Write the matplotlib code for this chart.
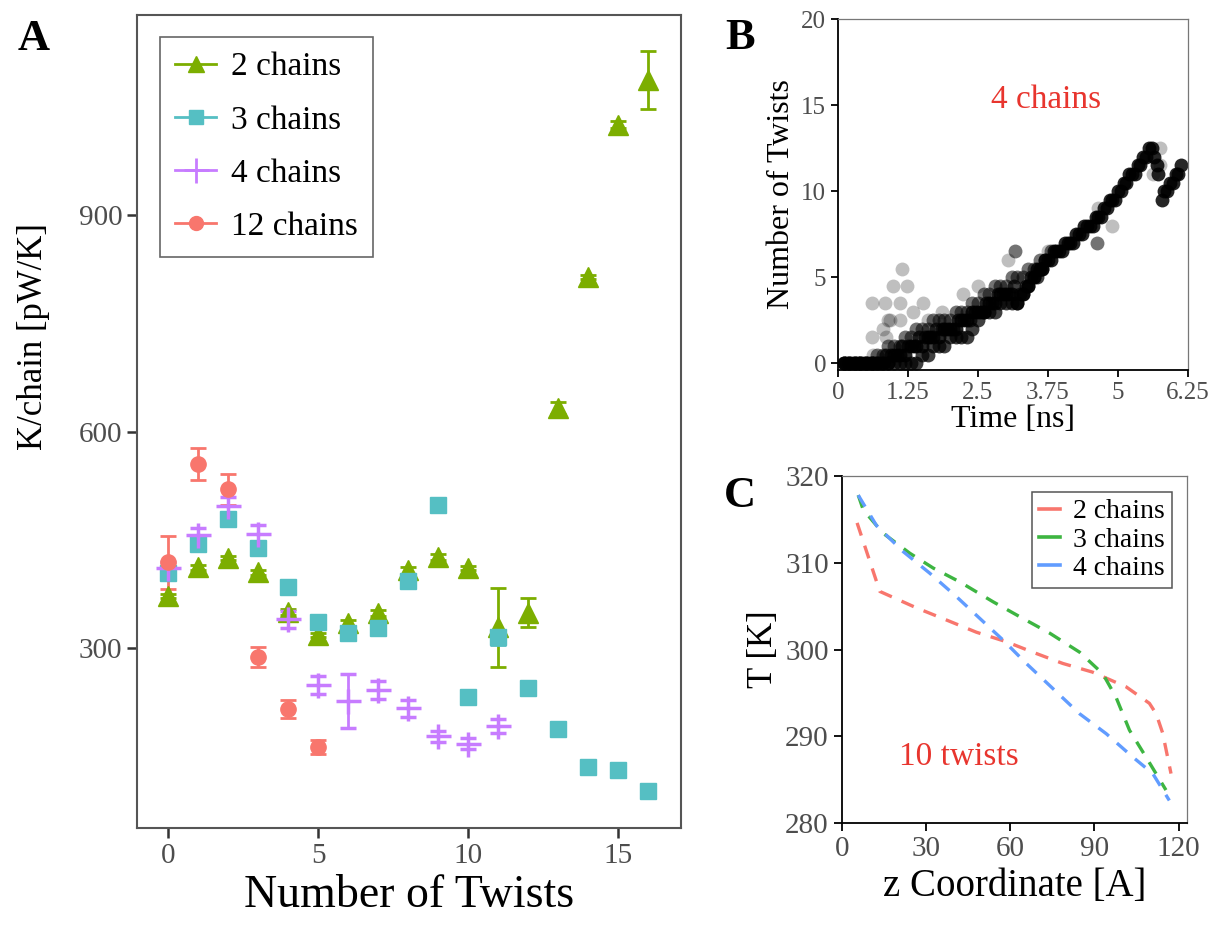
import numpy as np
import matplotlib.pyplot as plt
from matplotlib.lines import Line2D

plt.rcParams['font.family'] = ['Liberation Serif', 'DejaVu Serif']

# ---------------- Panel A data ----------------
twists_2 = [0, 1, 2, 3, 4, 5, 6, 7, 8, 9, 10, 11, 12, 13, 14, 15, 16]
k_2 = [372, 412, 425, 405, 350, 318, 335, 349, 408, 426, 411, 329, 349, 633, 814, 1025, 1087]
err_2 = [3, 3, 3, 3, 4, 3, 4, 4, 5, 4, 3, 55, 20, 8, 3, 5, 40]

twists_3 = [0, 1, 2, 3, 4, 5, 6, 7, 8, 9, 10, 11, 12, 13, 14, 15, 16]
k_3 = [404, 444, 479, 439, 385, 336, 321, 328, 393, 498, 232, 315, 245, 188, 135, 131, 102]
err_3 = [4, 4, 4, 4, 4, 4, 4, 4, 5, 3, 3, 10, 3, 3, 3, 3, 3]

twists_4 = [0, 1, 2, 3, 4, 5, 6, 7, 8, 9, 10, 11]
k_4 = [411, 457, 497, 458, 340, 249, 227, 242, 217, 178, 168, 192]
err_4 = [8, 10, 12, 12, 12, 12, 37, 12, 12, 8, 8, 10]

twists_12 = [0, 1, 2, 3, 4, 5]
k_12 = [419, 555, 520, 288, 216, 163]
err_12 = [37, 22, 22, 14, 12, 10]

# ---------------- Panel B data ----------------
run1_t = [0.1, 0.2, 0.3, 0.4, 0.5, 0.6, 0.7, 0.8, 0.9, 1.0, 1.1, 1.2, 1.3, 1.4, 1.5,
          1.6, 1.7, 1.8, 1.9, 2.0, 2.1, 2.2, 2.3, 2.4, 2.5, 2.6, 2.7, 2.8, 2.9, 3.0,
          3.1, 3.2, 3.3, 3.4, 3.5, 3.55, 3.6, 3.65, 3.7, 3.75, 3.8, 3.85, 3.9, 3.95,
          4.0, 4.05, 4.1, 4.15, 4.2, 4.25, 4.3, 4.35, 4.4, 4.45, 4.5, 4.55, 4.6, 4.65,
          4.7, 4.75, 4.8, 4.85, 4.9, 4.95, 5.0, 5.05, 5.1, 5.15, 5.2, 5.25, 5.3, 5.35,
          5.4, 5.45, 5.5, 5.55, 5.6, 5.65, 5.7, 5.72, 5.78, 5.83, 5.88, 5.93, 5.98,
          6.03, 6.08, 6.13]
run1_n = [0, 0, 0, 0, 0, 0, 0, 0, 0, 0.5, 0.5, 0.5, 1, 1, 1,
          1.5, 1.5, 1.5, 2, 2, 2, 2.5, 2.5, 3, 3, 3, 3.5, 3.5, 4, 4,
          4, 3.5, 4, 4.5, 5, 5.5, 5.5, 5.5, 6, 6, 6, 6.5, 6.5, 6.5,
          6.5, 7, 7, 7, 7, 7.5, 7.5, 7.5, 8, 8, 8, 8, 8.5, 8.5,
          8.5, 9, 9, 9.5, 9.5, 9.5, 10, 10, 10.5, 10.5, 11, 11, 11, 11.5,
          11.5, 12, 12, 12.5, 12.5, 12, 11.5, 11, 9.5, 10, 10, 10.5, 10.5,
          11, 11, 11.5]

run2_t = [0.1, 0.2, 0.3, 0.4, 0.5, 0.6, 0.7, 0.8, 0.9, 1.0, 1.1, 1.2, 1.3, 1.4, 1.5,
          1.6, 1.7, 1.8, 1.9, 2.0, 2.1, 2.2, 2.3, 2.4, 2.5, 2.6, 2.7, 2.8, 2.9, 3.0,
          3.1, 3.2, 3.3, 3.4, 3.5, 3.6]
run2_n = [0, 0, 0, 0, 0, 0, 0, 0, 0, 0, 0, 0, 0, 0, 0.5,
          0.5, 1, 1, 1, 1.5, 1.5, 1.5, 1.5, 2, 2.5, 3, 3, 3, 3.5, 3.5,
          3.5, 3.5, 4, 4.5, 5, 5.5]

run3_t = [0.1, 0.2, 0.3, 0.4, 0.5, 0.6, 0.7, 0.8, 0.9, 1.0, 1.1, 1.2, 1.3, 1.4, 1.5,
          1.6, 1.7, 1.8, 1.9, 2.0, 2.1, 2.2, 2.3, 2.4, 2.5, 2.6, 2.7, 2.8, 2.9, 3.0,
          3.1, 3.16, 3.2, 3.3, 3.4, 3.5, 3.6, 3.7, 3.8, 4.62]
run3_n = [0, 0, 0, 0, 0, 0, 0.5, 0.5, 1, 1, 1, 1.5, 1.5, 2, 2,
          2, 2.5, 2.5, 2.5, 2.5, 3, 3, 3, 3.5, 3.5, 4, 4, 4.5, 4.5, 4.5,
          5, 6.5, 5, 5, 5.5, 5.5, 6, 6, 6.5, 7]

run4_t = [0.15, 0.25, 0.35, 0.45, 0.55, 0.65, 0.75, 0.85, 0.95, 1.05, 1.15, 1.25,
          1.35, 1.45, 1.55, 1.65, 1.75, 1.85, 1.95, 2.05, 2.15, 2.25, 2.35, 2.45,
          2.55, 2.65, 2.75, 2.85, 2.95, 3.05, 3.15, 3.25, 3.35, 3.45, 3.55, 3.65]
run4_n = [0, 0, 0, 0, 0, 0, 0, 0.5, 0.5, 0.5, 1, 1,
          1, 1.5, 1.5, 1.5, 2, 2, 2, 2, 2.5, 2.5, 2.5, 3,
          3, 3.5, 3.5, 4, 4, 4, 4.5, 4, 4.5, 5, 5, 5.5]

light_t = [0.6, 0.6, 0.62, 0.81, 0.84, 0.85, 0.89, 0.93, 0.98, 1.11, 1.11, 1.14, 1.23,
           1.34, 1.52, 1.6, 1.85, 2.23, 2.5, 3.04, 3.75, 4.64, 4.89, 5.63, 5.75, 5.75]
light_n = [3.5, 1.5, 0.5, 2, 3.5, 1.5, 2.5, 2.5, 4.5, 3.5, 2.5, 5.5, 4.5,
           3, 3.5, 2.5, 3, 4, 4.5, 6, 6.5, 9, 8, 11, 11.5, 12.5]

# ---------------- Panel C data ----------------
z_2 = [5.4, 13.5, 26.6, 37.3, 47.9, 58.6, 68.0, 78.7, 89.3, 101.3, 109.6, 112.0, 114.3, 117.3]
T_2 = [314.6, 306.7, 304.8, 303.4, 302.0, 300.9, 299.7, 298.4, 297.4, 295.7, 293.8, 292.6, 290.4, 285.7]
z_3 = [5.8, 7.6, 14.7, 24.2, 32.5, 42.0, 53.9, 63.3, 74.0, 84.7, 93.0, 97.7, 102.5, 108.4, 115.5]
T_3 = [317.8, 316.1, 313.4, 311.1, 309.4, 307.8, 305.5, 303.8, 301.9, 299.7, 297.2, 294.5, 290.7, 287.6, 283.8]
z_4 = [5.8, 12.3, 21.8, 31.3, 40.8, 49.1, 57.4, 65.7, 75.2, 84.7, 94.2, 103.7, 110.8, 116.7]
T_4 = [317.8, 314.3, 311.3, 308.8, 306.1, 303.6, 301.1, 298.4, 295.5, 292.6, 290.3, 287.6, 285.7, 282.6]

green = '#7CAE00'
teal = '#55BFC3'
purple = '#C77CFF'
red = '#F8766D'
tick_grey = '#4D4D4D'
c_green = '#3DB541'
c_blue = '#619CFF'

fig = plt.figure(figsize=(12.09, 9.26), dpi=100)

# ---------------- Panel A ----------------
axA = fig.add_axes([0.1133, 0.1058, 0.450, 0.878])
axA.errorbar(twists_2, k_2, yerr=err_2, fmt='^', color=green, ms=14, capsize=6, elinewidth=2, capthick=2)
axA.errorbar(twists_3, k_3, yerr=err_3, fmt='s', color=teal, ms=11, capsize=6, elinewidth=2, capthick=2)
axA.errorbar(twists_4, k_4, yerr=err_4, fmt='+', color=purple, ms=18, mew=2.5, capsize=6,
             elinewidth=2, capthick=2)
axA.errorbar(twists_12, k_12, yerr=err_12, fmt='o', color=red, ms=11, capsize=6, elinewidth=2, capthick=2)
axA.set_xlim(-1.05, 17.1)
axA.set_ylim(51, 1177)
axA.set_xticks([0, 5, 10, 15])
axA.set_yticks([300, 600, 900])
axA.tick_params(labelsize=21, labelcolor=tick_grey, length=7, width=1.8, color='#333333')
for s in axA.spines.values():
    s.set_color('#555555')
    s.set_linewidth(1.5)
axA.set_xlabel('Number of Twists', fontsize=33, labelpad=4)
axA.set_ylabel('K/chain [pW/K]', fontsize=25)
axA.yaxis.set_label_coords(-0.16, 0.605)

handles = [
    Line2D([], [], color=green, marker='^', ms=12, lw=2),
    Line2D([], [], color=teal, marker='s', ms=10, lw=2),
    Line2D([], [], color=purple, marker='+', ms=18, mew=2, lw=2),
    Line2D([], [], color=red, marker='o', ms=10, lw=2),
]
legA = axA.legend(handles, ['2 chains', '3 chains', '4 chains', '12 chains'], loc='upper left',
                  fontsize=24, fancybox=False, framealpha=1, edgecolor='#666666',
                  handlelength=1.25, handletextpad=0.45, labelspacing=0.68, borderpad=0.45,
                  borderaxespad=0, bbox_to_anchor=(0.042, 0.973))
legA.get_frame().set_linewidth(1.2)

# ---------------- Panel B ----------------
axB = fig.add_axes([0.6931, 0.6004, 0.2895, 0.379])
axB.scatter(light_t, light_n, s=100, color='black', alpha=0.25, linewidths=0)
axB.scatter(run2_t, run2_n, s=100, color='black', alpha=0.75, linewidths=0)
axB.scatter(run4_t, run4_n, s=100, color='black', alpha=0.75, linewidths=0)
axB.scatter(run3_t, run3_n, s=100, color='black', alpha=0.55, linewidths=0)
axB.scatter(run1_t, run1_n, s=100, color='black', alpha=0.85, linewidths=0)
axB.set_xlim(0, 6.25)
axB.set_ylim(-0.4, 20)
axB.set_xticks([0, 1.25, 2.5, 3.75, 5, 6.25])
axB.set_xticklabels(['0', '1.25', '2.5', '3.75', '5', '6.25'])
axB.set_yticks([0, 5, 10, 15, 20])
axB.tick_params(labelsize=18, labelcolor=tick_grey, length=5, width=1.3)
for side in ['left', 'bottom']:
    axB.spines[side].set_linewidth(1.3)
for side in ['top', 'right']:
    axB.spines[side].set_color('#777777')
    axB.spines[side].set_linewidth(0.9)
axB.set_xlabel('Time [ns]', fontsize=23, labelpad=1)
axB.set_ylabel('Number of Twists', fontsize=23, labelpad=4)
axB.text(3.71, 15.3, '4 chains', color='#E8352E', fontsize=24, ha='center', va='center')

# ---------------- Panel C ----------------
axC = fig.add_axes([0.6964, 0.1112, 0.2854, 0.3747])
dash = (4, 3.2)
axC.plot(z_2, T_2, color=red, lw=2.4, dashes=dash)
axC.plot(z_3, T_3, color=c_green, lw=2.4, dashes=dash)
axC.plot(z_4, T_4, color=c_blue, lw=2.4, dashes=dash)
axC.set_xlim(0, 123)
axC.set_ylim(280, 320)
axC.set_xticks([0, 30, 60, 90, 120])
axC.set_yticks([280, 290, 300, 310, 320])
axC.tick_params(labelsize=21, labelcolor=tick_grey, length=6, width=1.3)
for side in ['left', 'bottom']:
    axC.spines[side].set_linewidth(1.3)
for side in ['top', 'right']:
    axC.spines[side].set_color('#777777')
    axC.spines[side].set_linewidth(0.9)
axC.set_xlabel('z Coordinate [A]', fontsize=28, labelpad=4)
axC.set_ylabel('T [K]', fontsize=25)
axC.yaxis.set_label_coords(-0.18, 0.5)
axC.text(41.6, 287.6, '10 twists', color='#E8352E', fontsize=24, ha='center', va='center')
c_handles = [Line2D([], [], color=red, lw=2.6),
             Line2D([], [], color=c_green, lw=2.6),
             Line2D([], [], color=c_blue, lw=2.6)]
legC = axC.legend(c_handles, ['2 chains', '3 chains', '4 chains'], loc='upper right', fontsize=20,
                  fancybox=False, framealpha=1, edgecolor='#555555',
                  handlelength=0.75, handletextpad=0.5, labelspacing=0.1, borderpad=0.25,
                  borderaxespad=0, bbox_to_anchor=(0.957, 0.954))
legC.get_frame().set_linewidth(1.1)

# panel letters
fig.text(18 / 1209, 1 - 19 / 926, 'A', fontsize=32, fontweight='bold', va='top')
fig.text(725 / 1209, 1 - 18 / 926, 'B', fontsize=32, fontweight='bold', va='top')
fig.text(724 / 1209, 1 - 476 / 926, 'C', fontsize=32, fontweight='bold', va='top')

fig.savefig('out.png', dpi=100)
